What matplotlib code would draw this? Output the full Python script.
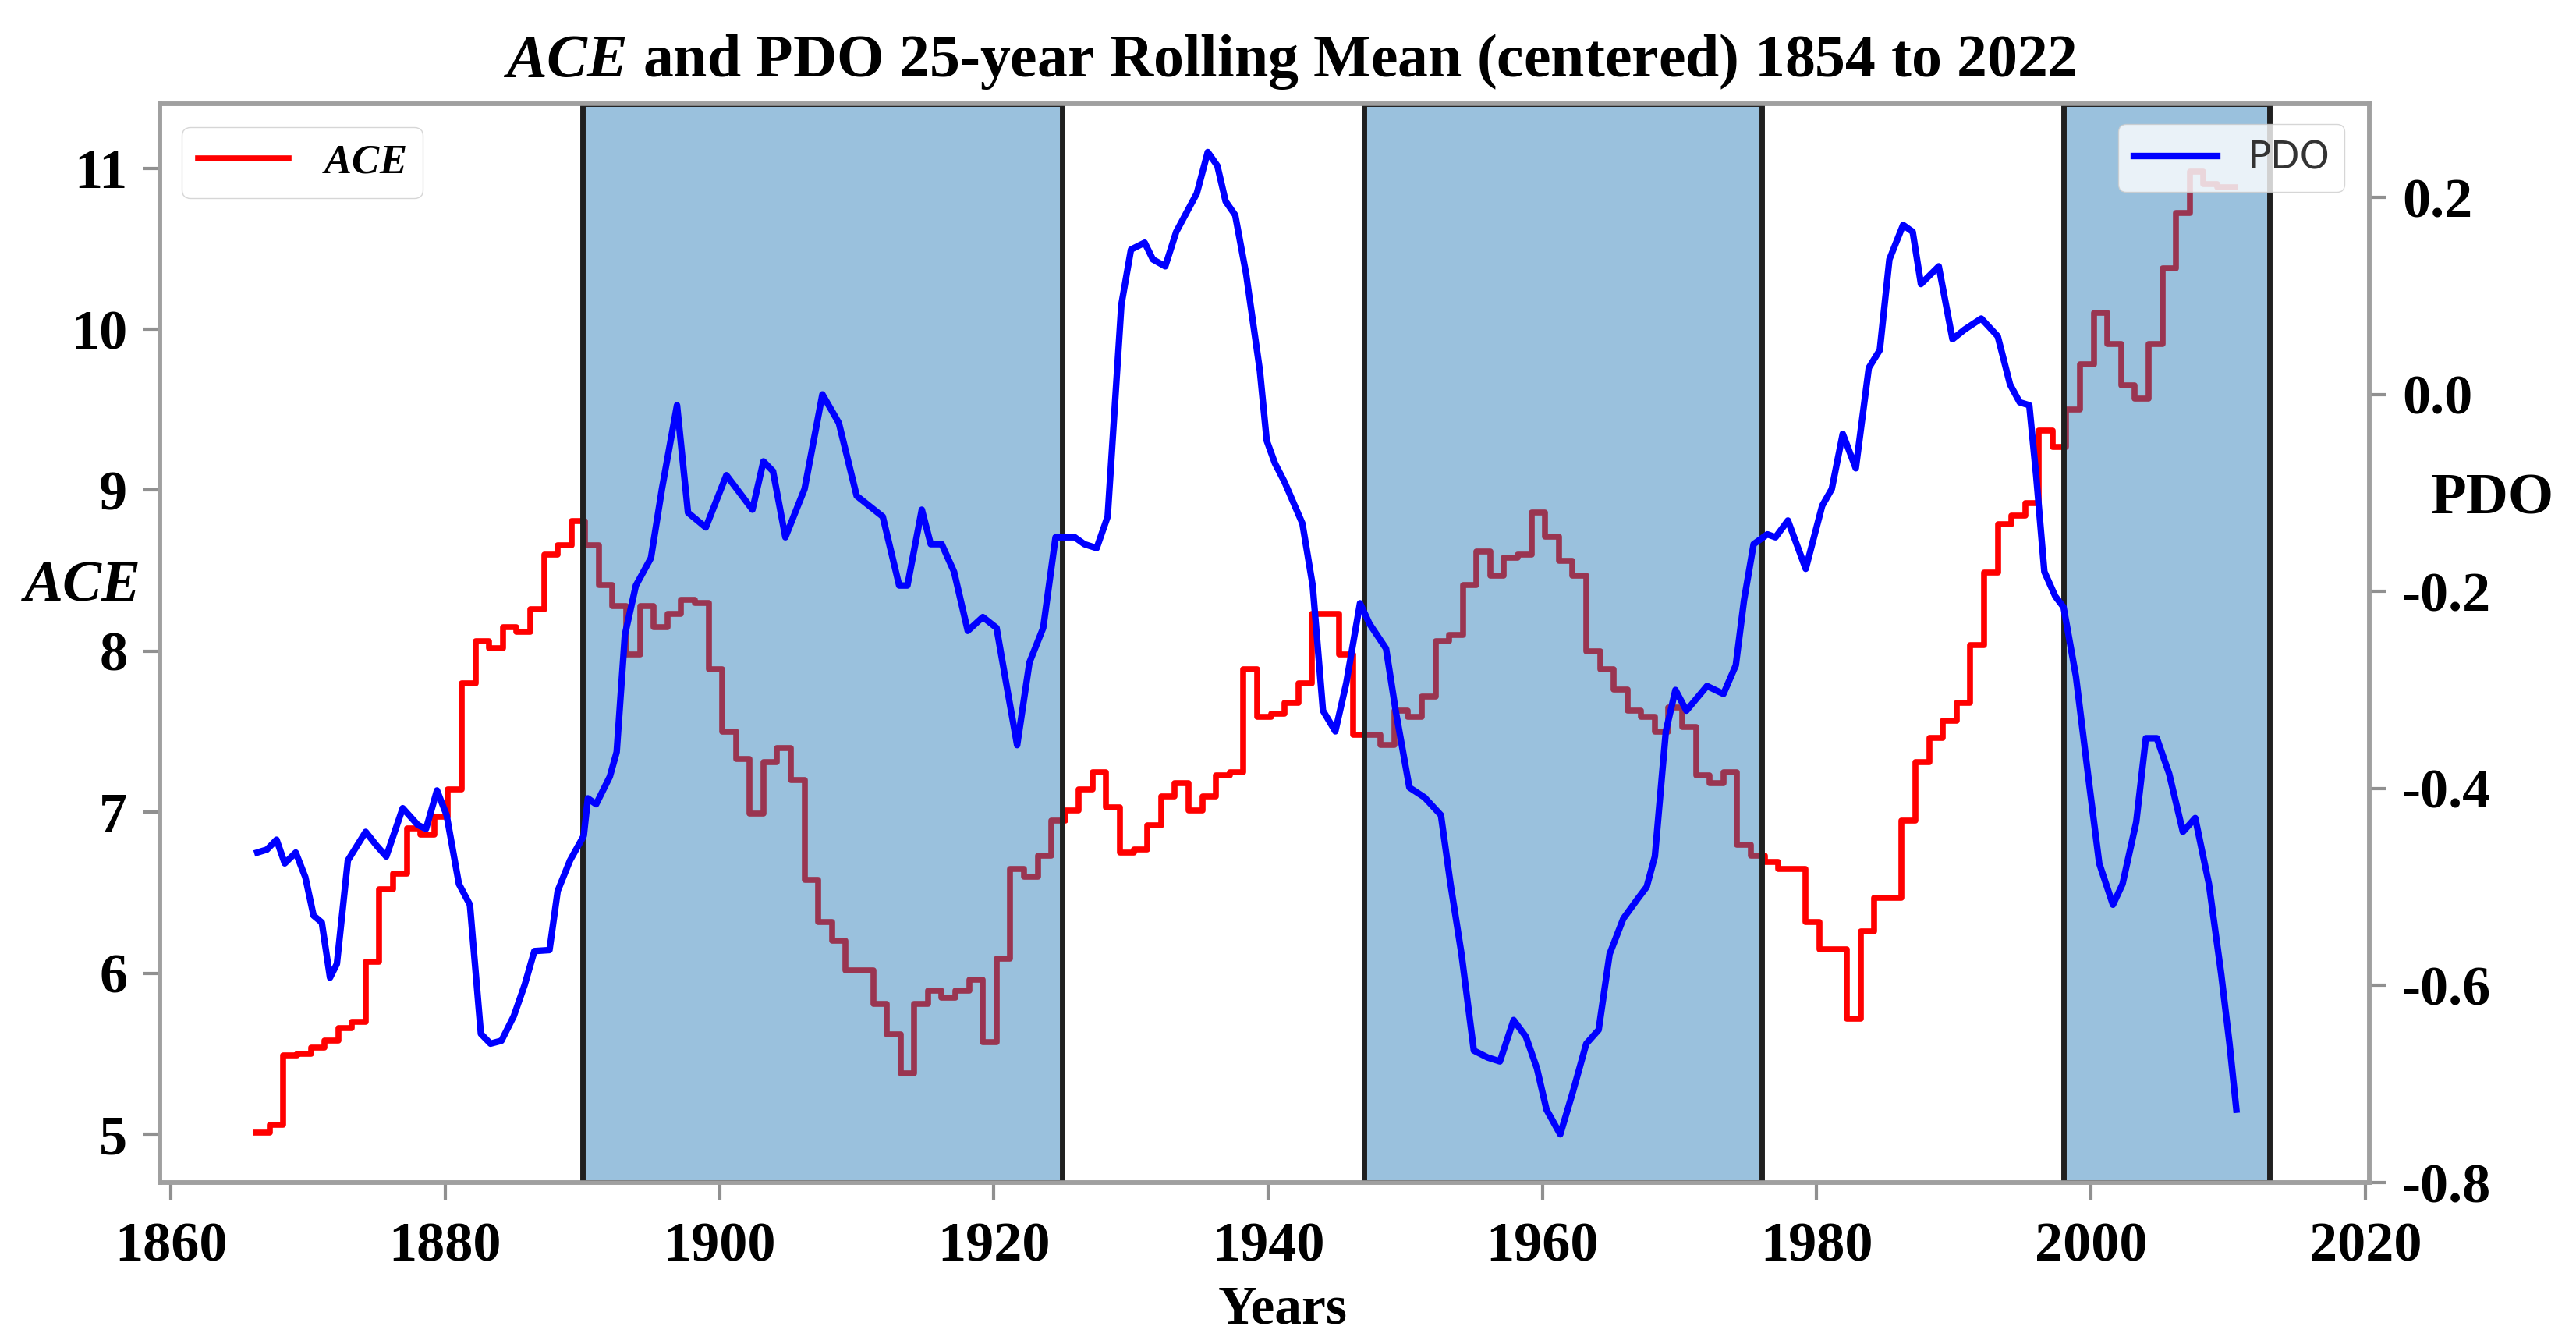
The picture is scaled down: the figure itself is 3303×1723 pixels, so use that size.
import numpy as np
import matplotlib
matplotlib.use("Agg")
import matplotlib.pyplot as plt

plt.rcParams['font.family'] = ['Liberation Serif', 'DejaVu Serif']
plt.rcParams['font.weight'] = 'bold'
plt.rcParams['axes.unicode_minus'] = False
plt.rcParams['mathtext.fontset'] = 'custom'
plt.rcParams['mathtext.it'] = 'Liberation Serif:italic:bold'
plt.rcParams['mathtext.rm'] = 'Liberation Serif:bold'

# 25-year rolling mean of ACE, one value per year (steps)
ace_years = np.arange(1866, 2011)
ace = [5.01, 5.06, 5.49, 5.50, 5.54, 5.58, 5.66, 5.70, 6.07, 6.52,
       6.62, 6.90, 6.86, 6.97, 7.14, 7.80, 8.06, 8.02, 8.15, 8.12,
       8.26, 8.60, 8.66, 8.81, 8.66, 8.41, 8.28, 7.98, 8.28, 8.15,
       8.23, 8.32, 8.30, 7.89, 7.50, 7.33, 6.99, 7.31, 7.40, 7.20,
       6.58, 6.32, 6.20, 6.02, 6.02, 5.81, 5.62, 5.38, 5.81, 5.89,
       5.85, 5.89, 5.96, 5.57, 6.09, 6.65, 6.60, 6.73, 6.95, 7.01,
       7.14, 7.25, 7.03, 6.75, 6.77, 6.92, 7.10, 7.18, 7.01, 7.10,
       7.23, 7.25, 7.89, 7.59, 7.61, 7.68, 7.80, 8.23, 8.23, 7.98,
       7.48, 7.48, 7.42, 7.63, 7.59, 7.72, 8.06, 8.10, 8.41, 8.62,
       8.47, 8.58, 8.60, 8.86, 8.71, 8.56, 8.47, 8.00, 7.89, 7.76,
       7.63, 7.59, 7.50, 7.65, 7.53, 7.23, 7.18, 7.25, 6.80, 6.73,
       6.69, 6.65, 6.65, 6.32, 6.15, 6.15, 5.72, 6.26, 6.47, 6.47,
       6.95, 7.31, 7.46, 7.57, 7.68, 8.04, 8.49, 8.79, 8.84, 8.92,
       9.37, 9.27, 9.50, 9.78, 10.10, 9.91, 9.65, 9.57, 9.91, 10.38,
       10.72, 10.98, 10.90, 10.88, 10.88]
step_offset = 0.2

# 25-year rolling mean of PDO
pdo_years = [1866.3, 1867.0, 1867.7, 1868.3, 1869.1, 1869.8, 1870.4, 1871.0, 1871.6, 1872.1,
             1872.9, 1874.2, 1875.0, 1875.7, 1876.9, 1878.0, 1878.6, 1879.4, 1880.1, 1881.0,
             1881.8, 1882.6, 1883.3, 1884.1, 1885.0, 1885.8, 1886.5, 1887.6, 1888.2, 1889.1,
             1890.1, 1890.4, 1891.0, 1892.0, 1892.5, 1893.1, 1893.9, 1895.0, 1895.8, 1896.9,
             1897.7, 1899.0, 1900.5, 1902.4, 1903.2, 1903.9, 1904.8, 1906.2, 1907.5, 1908.7,
             1910.0, 1911.9, 1913.1, 1913.7, 1914.75, 1915.4, 1916.2, 1917.1, 1918.1, 1919.2,
             1920.2, 1920.9, 1921.7, 1922.6, 1923.6, 1924.5, 1925.9, 1926.6, 1927.5, 1928.3,
             1929.3, 1930.0, 1931.0, 1931.6, 1932.5, 1933.3, 1934.8, 1935.6, 1936.3, 1936.9,
             1937.6, 1938.4, 1939.4, 1939.9, 1940.5, 1941.2, 1942.5, 1943.25, 1944.0, 1944.9,
             1945.7, 1946.7, 1947.4, 1948.6, 1949.3, 1950.3, 1951.4, 1952.6, 1953.3, 1954.1,
             1955.0, 1956.0, 1956.9, 1957.9, 1958.8, 1959.6, 1960.3, 1961.3, 1962.2, 1963.2,
             1964.1, 1964.9, 1965.9, 1967.0, 1967.6, 1968.2, 1969.0, 1969.7, 1970.5, 1972.0,
             1973.2, 1974.1, 1974.7, 1975.4, 1976.4, 1977.0, 1977.9, 1979.2, 1980.4, 1981.1,
             1981.9, 1982.85, 1983.8, 1984.6, 1985.3, 1986.3, 1987.0, 1987.6, 1988.9, 1989.9,
             1990.8, 1992.0, 1993.2, 1994.1, 1994.8, 1995.5, 1996.0, 1996.6, 1997.4, 1998.0,
             1998.9, 1999.9, 2000.6, 2001.6, 2002.3, 2003.3, 2004.0, 2004.8, 2005.7, 2006.7,
             2007.6, 2008.6, 2009.5, 2010.1, 2010.6]
pdo = [-0.465, -0.462, -0.452, -0.476, -0.465, -0.490, -0.529, -0.536, -0.592, -0.578,
       -0.473, -0.444, -0.458, -0.469, -0.420, -0.437, -0.441, -0.402, -0.427, -0.497,
       -0.518, -0.649, -0.659, -0.656, -0.631, -0.599, -0.565, -0.564, -0.504, -0.473,
       -0.448, -0.410, -0.416, -0.388, -0.363, -0.244, -0.194, -0.166, -0.096, -0.011,
       -0.120, -0.135, -0.082, -0.117, -0.068, -0.078, -0.145, -0.096, 0.000, -0.029,
       -0.103, -0.124, -0.194, -0.194, -0.117, -0.152, -0.152, -0.180, -0.240, -0.226,
       -0.237, -0.293, -0.356, -0.272, -0.237, -0.145, -0.145, -0.152, -0.156, -0.124,
       0.091, 0.147, 0.154, 0.137, 0.130, 0.165, 0.204, 0.246, 0.232, 0.196,
       0.182, 0.122, 0.024, -0.047, -0.070, -0.089, -0.131, -0.194, -0.321, -0.342,
       -0.293, -0.212, -0.233, -0.258, -0.321, -0.399, -0.409, -0.427, -0.497, -0.568,
       -0.666, -0.673, -0.677, -0.635, -0.652, -0.684, -0.726, -0.751, -0.709, -0.659,
       -0.645, -0.568, -0.532, -0.511, -0.500, -0.469, -0.342, -0.300, -0.321, -0.296,
       -0.304, -0.275, -0.209, -0.152, -0.142, -0.145, -0.128, -0.177, -0.113, -0.096,
       -0.040, -0.075, 0.027, 0.045, 0.137, 0.172, 0.165, 0.112, 0.130, 0.056,
       0.066, 0.077, 0.059, 0.010, -0.008, -0.011, -0.082, -0.180, -0.205, -0.216,
       -0.286, -0.399, -0.476, -0.518, -0.497, -0.434, -0.349, -0.349, -0.385, -0.444,
       -0.430, -0.497, -0.589, -0.659, -0.726]

# shaded periods
spans = [(1890, 1925), (1947, 1976), (1998, 2013)]

xticks = list(range(1860, 2021, 20))
ace_ticks = [5, 6, 7, 8, 9, 10, 11]
pdo_ticks = [-0.8, -0.6, -0.4, -0.2, 0.0, 0.2]

fig = plt.figure(figsize=(33.03, 17.23), dpi=100)
ax1 = fig.add_axes([0.0621, 0.1201, 0.8577, 0.8027])
ax2 = ax1.twinx()

x_ace = np.append(ace_years + step_offset, ace_years[-1] + step_offset + 0.3)
y_ace = np.append(ace, ace[-1])
ax1.step(x_ace, y_ace, where='post', color='red', lw=5.5, label='$\\mathit{ACE}$', zorder=2)

for a, b in spans:
    ax1.axvspan(a, b, facecolor=(0.122, 0.467, 0.706, 0.45), edgecolor='#202020',
                lw=5, zorder=3)

ax2.plot(pdo_years, pdo, color='blue', lw=6, label='PDO')

ax1.set_xlim(1859.2, 2020.3)
ax1.set_ylim(4.70, 11.40)
ax2.set_ylim(-0.8, 0.295)

ax1.set_xticks(xticks)
ax1.set_yticks(ace_ticks)
ax2.set_yticks(pdo_ticks)
ax2.set_yticklabels(['%.1f' % v for v in pdo_ticks])

for ax in (ax1, ax2):
    for s in ax.spines.values():
        s.set_color('#a0a0a0')
        s.set_linewidth(4)
    ax.tick_params(labelsize=52, length=16, width=3, color='#909090', pad=14)
ax1.tick_params(axis='x', pad=20)

ax1.set_xlabel('Years', fontsize=50, fontweight='bold')
ax1.xaxis.set_label_coords(0.508, -0.118)
ax1.xaxis.label.set_va('center')
ax1.set_ylabel('ACE', fontsize=54, style='italic', fontweight='bold', rotation=0)
ax1.yaxis.set_label_coords(-0.035, 0.552)
ax1.yaxis.label.set_ha('center')
ax1.yaxis.label.set_va('center')
ax2.set_ylabel('PDO', fontsize=54, fontweight='bold', rotation=0)
ax2.yaxis.set_label_coords(1.0558, 0.633)
ax2.yaxis.label.set_ha('center')
ax2.yaxis.label.set_va('center')

fig.text(0.5008, 1 - 98 / 1723, '$\\mathit{ACE}$ and PDO 25-year Rolling Mean (centered) 1854 to 2022',
         ha='center', va='baseline', fontsize=56, fontweight='bold')

leg1 = ax1.legend(loc='upper left', bbox_to_anchor=(0.0099, 0.978), fontsize=38,
                  borderaxespad=0, handlelength=2.2, framealpha=0.8)
leg2 = ax2.legend(loc='upper right', bbox_to_anchor=(0.9887, 0.981), fontsize=35,
                  borderaxespad=0, handlelength=2.2, framealpha=0.8,
                  prop={'family': 'DejaVu Sans', 'weight': 'normal', 'size': 35})
for t in leg2.get_texts():
    t.set_color('#333333')
leg1.set_zorder(5)

fig.savefig('out.png', dpi=100)
